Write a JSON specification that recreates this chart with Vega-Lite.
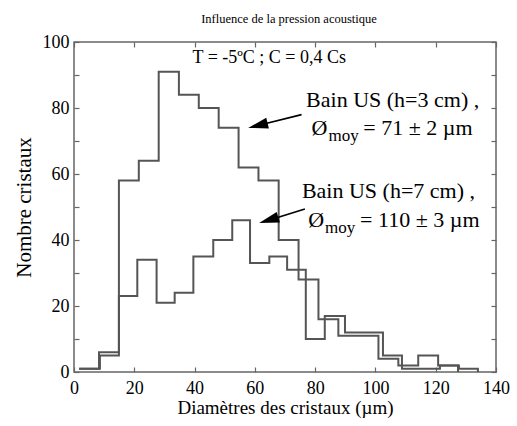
{
  "$schema": "https://vega.github.io/schema/vega-lite/v6.json",
  "width": 422,
  "height": 330,
  "autosize": {"type": "none"},
  "padding": {"left": 74, "top": 42, "right": 21, "bottom": 54},
  "background": "white",
  "title": {
    "text": "Influence de la pression acoustique",
    "font": "Liberation Serif",
    "fontSize": 12.5,
    "fontWeight": "normal",
    "color": "black",
    "anchor": "middle",
    "dx": 4,
    "offset": 8
  },
  "config": {
    "view": {"stroke": "#666", "strokeWidth": 1.5},
    "axis": {
      "grid": false,
      "domain": false,
      "tickColor": "#666",
      "tickWidth": 1.2,
      "tickSize": -5,
      "labelFont": "Liberation Serif",
      "labelFontSize": 18,
      "labelColor": "black",
      "titleFont": "Liberation Serif",
      "titleFontSize": 19,
      "titleFontWeight": "normal",
      "titleColor": "black"
    }
  },
  "datasets": {
    "hist": [
      {"serie": "h=3 cm", "d": 1.7, "n": 1},
      {"serie": "h=3 cm", "d": 8.3, "n": 6},
      {"serie": "h=3 cm", "d": 14.9, "n": 58},
      {"serie": "h=3 cm", "d": 21.5, "n": 64},
      {"serie": "h=3 cm", "d": 28.1, "n": 91},
      {"serie": "h=3 cm", "d": 34.8, "n": 84},
      {"serie": "h=3 cm", "d": 41.4, "n": 80},
      {"serie": "h=3 cm", "d": 48.0, "n": 74},
      {"serie": "h=3 cm", "d": 54.6, "n": 62},
      {"serie": "h=3 cm", "d": 61.2, "n": 58},
      {"serie": "h=3 cm", "d": 67.9, "n": 40},
      {"serie": "h=3 cm", "d": 74.5, "n": 28},
      {"serie": "h=3 cm", "d": 81.1, "n": 16},
      {"serie": "h=3 cm", "d": 87.7, "n": 11},
      {"serie": "h=3 cm", "d": 94.3, "n": 11},
      {"serie": "h=3 cm", "d": 101.0, "n": 4},
      {"serie": "h=3 cm", "d": 107.6, "n": 2},
      {"serie": "h=3 cm", "d": 114.2, "n": 5},
      {"serie": "h=3 cm", "d": 120.8, "n": 2},
      {"serie": "h=3 cm", "d": 127.4, "n": 0},
      {"serie": "h=7 cm", "d": 1.7, "n": 1},
      {"serie": "h=7 cm", "d": 8.6, "n": 5},
      {"serie": "h=7 cm", "d": 14.9, "n": 23},
      {"serie": "h=7 cm", "d": 21.0, "n": 34},
      {"serie": "h=7 cm", "d": 27.4, "n": 21},
      {"serie": "h=7 cm", "d": 33.4, "n": 24},
      {"serie": "h=7 cm", "d": 39.6, "n": 35},
      {"serie": "h=7 cm", "d": 46.2, "n": 40},
      {"serie": "h=7 cm", "d": 52.5, "n": 46},
      {"serie": "h=7 cm", "d": 58.4, "n": 33},
      {"serie": "h=7 cm", "d": 64.8, "n": 35},
      {"serie": "h=7 cm", "d": 70.7, "n": 31},
      {"serie": "h=7 cm", "d": 76.9, "n": 10},
      {"serie": "h=7 cm", "d": 83.2, "n": 17},
      {"serie": "h=7 cm", "d": 89.9, "n": 12},
      {"serie": "h=7 cm", "d": 96.2, "n": 12},
      {"serie": "h=7 cm", "d": 102.5, "n": 5},
      {"serie": "h=7 cm", "d": 108.8, "n": 1},
      {"serie": "h=7 cm", "d": 115.1, "n": 1},
      {"serie": "h=7 cm", "d": 121.4, "n": 2},
      {"serie": "h=7 cm", "d": 127.7, "n": 1},
      {"serie": "h=7 cm", "d": 134.0, "n": 0}
    ],
    "conditions": [
      {"d": 39.3, "n": 95.2, "txt": "T = -5ºC ; C = 0,4 Cs"}
    ],
    "labels": [
      {"d": 77.0, "n": 82.5, "txt": "Bain US (h=3 cm) ,"},
      {"d": 78.8, "n": 74.0, "txt": "Ø"},
      {"d": 96.0, "n": 74.0, "txt": "= 71 ± 2 µm"},
      {"d": 75.6, "n": 54.8, "txt": "Bain US (h=7 cm) ,"},
      {"d": 77.7, "n": 46.2, "txt": "Ø"},
      {"d": 94.9, "n": 46.2, "txt": "= 110 ± 3 µm"}
    ],
    "subs": [
      {"d": 84.4, "n": 71.4, "txt": "moy"},
      {"d": 83.3, "n": 43.6, "txt": "moy"}
    ],
    "arrow3": [{"d": 75.5, "n": 78.0, "d2": 61.0, "n2": 74.7}],
    "arrow7": [{"d": 76.6, "n": 49.4, "d2": 64.6, "n2": 46.0}]
  },
  "layer": [
    {
      "data": {"name": "hist"},
      "mark": {"type": "line", "interpolate": "step-after", "color": "#555", "strokeWidth": 2},
      "encoding": {
        "x": {
          "field": "d", "type": "quantitative",
          "scale": {"domain": [0, 140], "nice": false, "zero": false},
          "axis": {
            "orient": "bottom",
            "values": [0, 20, 40, 60, 80, 100, 120, 140],
            "labelPadding": 12,
            "labelDx": 5,
            "labelFlush": false,
            "title": "Diamètres des cristaux (µm)",
            "titlePadding": 1
          }
        },
        "y": {
          "field": "n", "type": "quantitative",
          "scale": {"domain": [0, 100], "nice": false},
          "axis": {
            "orient": "left",
            "values": [0, 10, 20, 30, 40, 50, 60, 70, 80, 90, 100],
            "labelExpr": "datum.value % 20 === 0 ? datum.label : ''",
            "labelPadding": 10,
            "labelFlush": false,
            "title": "Nombre cristaux",
            "titleFontSize": 21,
            "titlePadding": 8
          }
        },
        "detail": {"field": "serie"}
      }
    },
    {
      "data": {"name": "arrow3"},
      "mark": {"type": "rule", "color": "black", "strokeWidth": 1.6},
      "encoding": {
        "x": {
          "field": "d", "type": "quantitative",
          "axis": {"orient": "top", "values": [0, 20, 40, 60, 80, 100, 120, 140], "labels": false, "title": null}
        },
        "y": {
          "field": "n", "type": "quantitative",
          "axis": {"orient": "right", "values": [0, 10, 20, 30, 40, 50, 60, 70, 80, 90, 100], "labels": false, "title": null}
        },
        "x2": {"field": "d2"},
        "y2": {"field": "n2"}
      }
    },
    {
      "data": {"name": "arrow3"},
      "mark": {"type": "point", "shape": "M1,0L-1,-0.55L-1,0.55Z", "filled": true, "color": "black", "opacity": 1, "size": 400, "angle": 166},
      "encoding": {
        "x": {"field": "d2", "type": "quantitative", "axis": null},
        "y": {"field": "n2", "type": "quantitative", "axis": null}
      }
    },
    {
      "data": {"name": "arrow7"},
      "mark": {"type": "rule", "color": "black", "strokeWidth": 1.6},
      "encoding": {
        "x": {"field": "d", "type": "quantitative", "axis": null},
        "y": {"field": "n", "type": "quantitative", "axis": null},
        "x2": {"field": "d2"},
        "y2": {"field": "n2"}
      }
    },
    {
      "data": {"name": "arrow7"},
      "mark": {"type": "point", "shape": "M1,0L-1,-0.55L-1,0.55Z", "filled": true, "color": "black", "opacity": 1, "size": 400, "angle": 163},
      "encoding": {
        "x": {"field": "d2", "type": "quantitative", "axis": null},
        "y": {"field": "n2", "type": "quantitative", "axis": null}
      }
    },
    {
      "data": {"name": "conditions"},
      "mark": {"type": "text", "align": "left", "baseline": "middle", "font": "Liberation Serif", "fontSize": 18, "color": "black"},
      "encoding": {
        "x": {"field": "d", "type": "quantitative", "axis": null},
        "y": {"field": "n", "type": "quantitative", "axis": null},
        "text": {"field": "txt"}
      }
    },
    {
      "data": {"name": "labels"},
      "mark": {"type": "text", "align": "left", "baseline": "middle", "font": "Liberation Serif", "fontSize": 22, "color": "black"},
      "encoding": {
        "x": {"field": "d", "type": "quantitative", "axis": null},
        "y": {"field": "n", "type": "quantitative", "axis": null},
        "text": {"field": "txt"}
      }
    },
    {
      "data": {"name": "subs"},
      "mark": {"type": "text", "align": "left", "baseline": "middle", "font": "Liberation Serif", "fontSize": 17, "color": "black"},
      "encoding": {
        "x": {"field": "d", "type": "quantitative", "axis": null},
        "y": {"field": "n", "type": "quantitative", "axis": null},
        "text": {"field": "txt"}
      }
    }
  ],
  "resolve": {"axis": {"x": "independent", "y": "independent"}}
}
